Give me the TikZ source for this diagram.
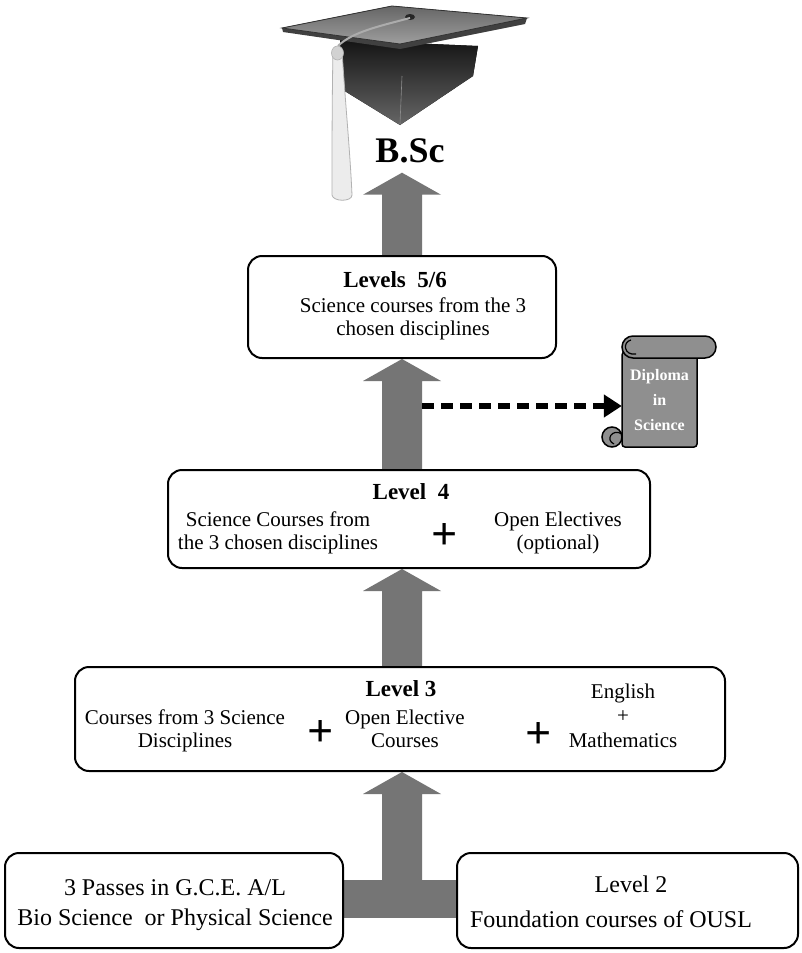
\documentclass[tikz,border=0pt]{standalone}
\usepackage{fontspec}
\setmainfont{Liberation Serif}
\usetikzlibrary{calc,arrows.meta}
\definecolor{arrowgray}{gray}{0.46}
\definecolor{scrollgray}{gray}{0.56}
\pgfdeclarelayer{bottom}
\pgfdeclarelayer{bg}
\pgfsetlayers{bottom,bg,main}
\newcommand\blockarrow[2]{%
  \fill[arrowgray] ($(#1)+(-20,0)$) -- ($(#2)+(-20,22)$) -- ($(#2)+(-39,22)$) -- (#2)
    -- ($(#2)+(39,22)$) -- ($(#2)+(20,22)$) -- ($(#1)+(20,0)$) -- cycle;}
\begin{document}
\begin{tikzpicture}[x=1pt,y=-1pt,
  box/.style={draw=black, line width=2pt, rounded corners=14pt, fill=white, inner sep=0pt},
  txt/.style={font=\fontsize{21}{23}\selectfont, inner sep=0pt, align=center, anchor=base},
  txtb/.style={font=\fontsize{24}{30}\selectfont, inner sep=0pt, align=center, anchor=base},
  bold/.style={font=\fontsize{23}{25}\selectfont\bfseries, inner sep=0pt, anchor=base},
  plus/.style={font=\fontsize{46}{46}\selectfont\bfseries, inner sep=0pt, anchor=center}]
\begin{pgfonlayer}{bottom}
\fill[white] (0,0) rectangle (802,953);
\end{pgfonlayer}
\useasboundingbox (0,0) rectangle (802,953);
\coordinate (axis) at (402,0);

% ---------- graduation cap ----------
\fill[top color=black!92, bottom color=black!60] (340,40) -- (343,90) -- (400,125) -- (473,76) -- (478,46) -- cycle;
\draw[black!45, line width=0.6pt] (402,76) -- (400,124);
\fill[black!75] (282,28) -- (400,44) -- (527,18) -- (525,24) -- (400,49) -- (283,32) -- cycle;
\filldraw[draw=black!80, line width=0.8pt, top color=black!60, bottom color=black!38] (282,28) -- (392,6) -- (527,18) -- (400,44) -- cycle;
\fill[black!85] (410,17) ellipse [x radius=5, y radius=3];
\draw[gray!65, line width=2pt] (410,18) .. controls (380,26) and (352,32) .. (338,46);
\filldraw[fill=gray!15, draw=gray!60, line width=0.8pt] (333,50) -- (342,50) .. controls (345,100) and (350,150) .. (352,195) .. controls (352,202) and (333,202) .. (332,195) .. controls (332,150) and (332,100) .. (333,50) -- cycle;
\filldraw[fill=gray!35, draw=gray!60, line width=0.6pt] (337.5,53) ellipse [x radius=6, y radius=7];
\node[font=\fontsize{36}{36}\selectfont\bfseries, inner sep=0pt, anchor=base] (bsc) at (410,162) {B.Sc};

% ---------- boxes ----------
\node[box, minimum width=308pt, minimum height=102pt] (l56) at (402,307) {};
\node[box, minimum width=482pt, minimum height=98pt] (l4) at (409,519) {};
\node[box, minimum width=650pt, minimum height=104pt] (l3) at (400,719) {};
\node[box, minimum width=338pt, minimum height=95pt] (bl) at (174,900.5) {};
\node[box, minimum width=341pt, minimum height=95pt] (br) at (627.5,900.5) {};

% ---------- texts (multi-line nodes: base = last line) ----------
\node[bold] (t56h) at (395,287) {Levels\ \ 5/6};
\node[txt] (t56b) at (413,335) {Science courses from the 3\\chosen disciplines};

\node[bold] (t4h) at (411,499) {Level\ \ 4};
\node[txt] (t4l) at (278,549) {Science Courses from\\the 3 chosen disciplines};
\node[plus] (p4) at (445,536) {+};
\node[txt] (t4r) at (558,549) {Open Electives\\(optional)};

\node[bold] (t3h) at (401,696) {Level 3};
\node[txt] (t3a) at (185,747) {Courses from 3 Science\\Disciplines};
\node[plus] (p3a) at (321,733) {+};
\node[txt] (t3b) at (405,747) {Open Elective\\Courses};
\node[plus] (p3b) at (539,735) {+};
\node[txt, font=\fontsize{21}{24.5}\selectfont] (t3c) at (623,747) {English\\+\\Mathematics};

\node[txtb] (blt) at (175,925) {3 Passes in G.C.E. A/L\\Bio Science\ \ or Physical Science};
\node[txtb] (brt1) at (631,892) {Level 2};
\node[txtb] (brt2) at (611,927) {Foundation courses of OUSL};

% ---------- diploma scroll ----------
\draw[fill=scrollgray, line width=1.5pt] (612,437) circle [radius=10];
\draw[fill=scrollgray, line width=1.5pt, rounded corners=3pt] (622,352) rectangle (697,447);
\draw[line width=1.2pt] (622,434) .. controls (612,428) and (605,440) .. (614,444);
\draw[fill=scrollgray, line width=1.5pt, rounded corners=11pt] (622,336) rectangle (716,358);
\draw[line width=1.2pt] (631,340) .. controls (622,342) and (624,356) .. (636,354);
\node[font=\fontsize{16}{25}\selectfont\bfseries, text=white, align=center, minimum width=75pt, inner sep=0pt] (dip) at (659.5,400) {Diploma\\in\\Science};

% ---------- connectors ----------
\begin{pgfonlayer}{bg}
\blockarrow{l56.north -| axis}{[yshift=-10pt]bsc.south -| axis}
\blockarrow{l4.north -| axis}{l56.south -| axis}
\blockarrow{l3.north -| axis}{l4.south -| axis}
\coordinate (tbar) at (402,899);
\fill[arrowgray] ($(bl.east |- tbar)+(0,-19)$) rectangle ($(br.west |- tbar)+(0,19)$);
\blockarrow{tbar}{l3.south -| axis}
\end{pgfonlayer}
\coordinate (dstart) at (422,406);
\draw[line width=6pt, dash pattern=on 12pt off 7pt, -{Triangle[width=22pt,length=18pt]}] (dstart) -- (dstart -| dip.west);
\end{tikzpicture}
\end{document}
